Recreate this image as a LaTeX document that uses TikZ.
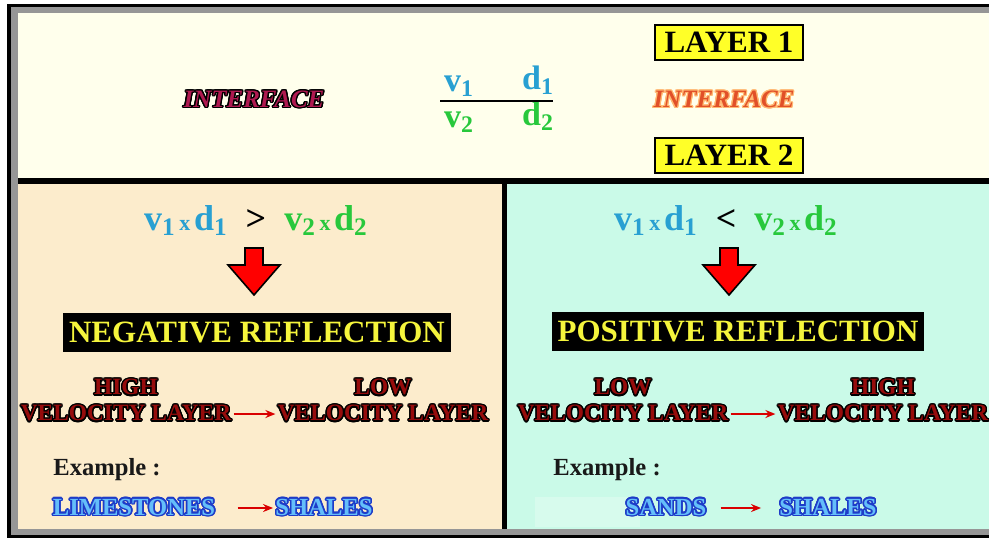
\documentclass[tikz,border=0pt]{standalone}
\usepackage{fontspec}
\setmainfont{Liberation Serif}
\usepackage{xcolor}
\usepackage{contour}
\usetikzlibrary{arrows.meta}
\contournumber{16}
\definecolor{topbg}{RGB}{255,255,236}
\definecolor{leftbg}{RGB}{252,236,204}
\definecolor{rightbg}{RGB}{202,250,232}
\definecolor{framegray}{RGB}{150,150,150}
\definecolor{vblue}{RGB}{40,160,210}
\definecolor{vgreen}{RGB}{40,200,60}
\definecolor{crimson}{RGB}{175,25,80}
\definecolor{velred}{RGB}{150,12,12}
\definecolor{ifaceorange}{RGB}{225,80,40}
\definecolor{rockblue}{RGB}{30,60,200}
\definecolor{rockfill}{RGB}{100,190,250}
\definecolor{tagyellow}{RGB}{255,255,40}
\definecolor{reflyellow}{RGB}{245,245,60}
\newcommand{\vsub}[2]{#1\textsubscript{#2}}
\newcommand{\smx}{{\fontsize{11}{11}\selectfont\,x\,}}
\newcommand{\velo}[1]{\contourlength{0.7pt}\contour{black}{\color{velred}#1}}
\newcommand{\rock}[1]{\contourlength{0.8pt}\contour{rockblue}{\color{rockfill}#1}}

\begin{document}
\begin{tikzpicture}[x=0.5pt,y=-0.5pt,
  tag/.style={draw=black,line width=1pt,fill=tagyellow,minimum width=74pt,minimum height=17.5pt,inner sep=0pt,font=\fontsize{15.5}{16}\selectfont\bfseries},
  refl/.style={fill=black,text=reflyellow,inner xsep=3pt,inner ysep=0pt,minimum height=19.5pt,font=\fontsize{15.5}{16}\selectfont\bfseries},
  frac/.style={anchor=base,inner sep=0pt,font=\fontsize{17}{17}\selectfont\bfseries},
  ineq/.style={anchor=base,inner sep=0pt,font=\fontsize{18}{18}\selectfont\bfseries},
  vel/.style={inner sep=1pt,font=\fontsize{11.7}{12}\selectfont\bfseries},
  exmp/.style={anchor=base west,inner sep=0pt,text={black!90},font=\fontsize{12.3}{13}\selectfont\bfseries},
  rocks/.style={inner sep=1pt,font=\fontsize{12.3}{13}\selectfont\bfseries},
  thinarrow/.style={draw=red!85!black,line width=1pt,-{Stealth[length=5pt,width=4pt]}},
  bigarrow/.style={fill=red,draw=black,line width=0.8pt,line join=miter}]
\useasboundingbox (0,0) rectangle (989,537);
\fill[white] (0,0) rectangle (989,537);
\fill[topbg] (18,13) rectangle (989,180);
\fill[leftbg] (18,182) rectangle (504,530);
\fill[rightbg] (504,182) rectangle (989,530);
\fill[white,opacity=0.25] (535,497) rectangle (640,527);
\fill[framegray] (11,6) rectangle (989,13);
\fill[framegray] (11,6) rectangle (18,534);
\fill[framegray] (11,529) rectangle (989,535);
\draw[line width=1.5pt] (7,5) -- (989,5);
\draw[line width=2pt] (9,5) -- (9,537);
\draw[line width=1.5pt] (7,536) -- (989,536);
\draw[line width=3pt] (18,181) -- (989,181);
\draw[line width=2.6pt] (504.5,181) -- (504.5,529);

\node[font=\fontsize{12.5}{13}\selectfont\bfseries\itshape] (ifl) at (254,100) {\contourlength{0.7pt}\contour{black}{\color{crimson}INTERFACE}};
\node[frac,text=vblue] (v1) at (459,91) {\vsub{v}{1}};
\node[frac,text=vblue] (d1) at (538,89) {\vsub{d}{1}};
\node[frac,text=vgreen] (v2) at (459,127) {\vsub{v}{2}};
\node[frac,text=vgreen] (d2) at (538,125) {\vsub{d}{2}};
\draw[line width=1.2pt] (440,101) -- (553,101);
\node[tag] (lay1) at (729,42) {LAYER 1};
\node[font=\fontsize{12.5}{13}\selectfont\bfseries\itshape] (ifc) at (724,100) {\contourlength{0.6pt}\contour{orange!55}{\color{ifaceorange}INTERFACE}};
\node[tag] (lay2) at (729,155) {LAYER 2};

\node[ineq] (neq) at (256,230) {{\color{vblue}\vsub{v}{1}\smx\vsub{d}{1}}\enspace{\color{black}>}\enspace{\color{vgreen}\vsub{v}{2}\smx\vsub{d}{2}}};
\node[ineq] (peq) at (726,230) {{\color{vblue}\vsub{v}{1}\smx\vsub{d}{1}}\enspace{\color{black}<}\enspace{\color{vgreen}\vsub{v}{2}\smx\vsub{d}{2}}};
\foreach \cx in {254,729}
  \draw[bigarrow,shift={(\cx,0)}] (-9,248) -- (9,248) -- (9,265) -- (26,265) -- (0,295) -- (-26,265) -- (-9,265) -- cycle;
\node[refl] (neg) at (257,332) {NEGATIVE REFLECTION};
\node[refl] (pos) at (738,331) {POSITIVE REFLECTION};

\node[vel] (hi1) at (126,388) {\velo{HIGH}};
\node[vel] (hv1) at (126,414) {\velo{VELOCITY LAYER}};
\node[vel] (lo1) at (383,388) {\velo{LOW}};
\node[vel] (lv1) at (383,414) {\velo{VELOCITY LAYER}};
\draw[thinarrow] (hv1) -- (lv1);
\node[vel] (lo2) at (623,388) {\velo{LOW}};
\node[vel] (lv2) at (623,414) {\velo{VELOCITY LAYER}};
\node[vel] (hi2) at (883,388) {\velo{HIGH}};
\node[vel] (hv2) at (883,414) {\velo{VELOCITY LAYER}};
\draw[thinarrow] (lv2) -- (hv2);

\node[exmp] (ex1) at (53,475) {Example :};
\node[exmp] (ex2) at (553,475) {Example :};
\node[rocks] (lime) at (134,508) {\rock{LIMESTONES}};
\node[rocks] (sh1) at (324,508) {\rock{SHALES}};
\draw[thinarrow,shorten <=10pt] (lime) -- (sh1);
\node[rocks] (sand) at (666,508) {\rock{SANDS}};
\node[rocks] (sh2) at (828,508) {\rock{SHALES}};
\draw[thinarrow,shorten <=6pt,shorten >=8pt] (sand) -- (sh2);
\end{tikzpicture}
\end{document}
